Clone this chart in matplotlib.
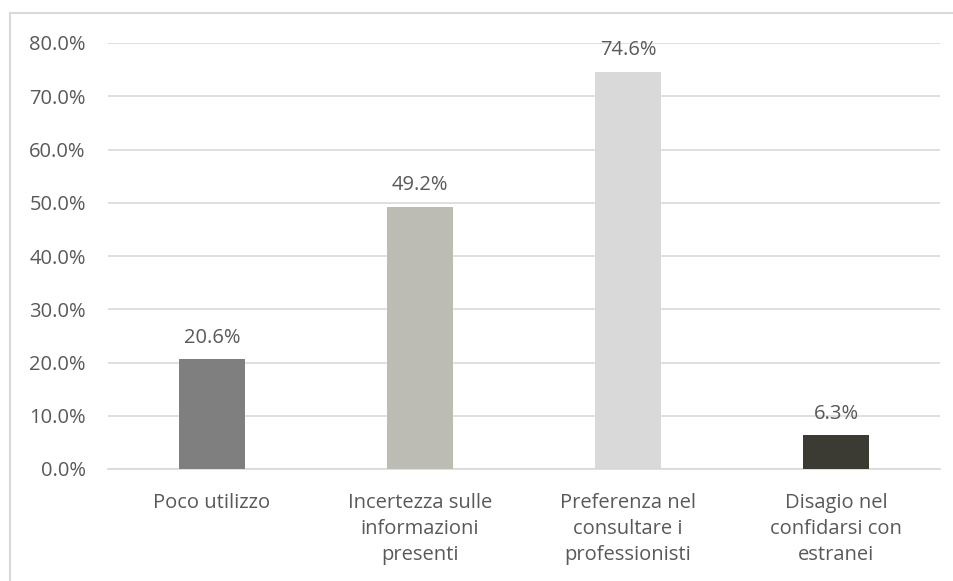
import matplotlib.pyplot as plt
from matplotlib.lines import Line2D
from matplotlib.ticker import MultipleLocator, FuncFormatter

categorie = ["Poco utilizzo", "Incertezza sulle\ninformazioni\npresenti",
             "Preferenza nel\nconsultare i\nprofessionisti", "Disagio nel\nconfidarsi con\nestranei"]
valori = [20.6, 49.2, 74.6, 6.3]
colori = ["#7f7f7f", "#bcbcb4", "#d9d9d9", "#3b3a33"]

plt.rcParams['font.family'] = ['Open Sans', 'DejaVu Sans']
testo = "#595959"
fs = 14.5

fig = plt.figure(figsize=(9.54, 5.81), dpi=100)
ax = fig.add_axes([108/954, 1 - 469/581, 832/954, 426/581])

x = range(len(valori))
ax.bar(x, valori, width=0.32, color=colori, zorder=3)
for i, v in enumerate(valori):
    ax.text(i, v + 2.2, f"{v:.1f}%", ha="center", va="bottom", fontsize=fs, color=testo)

ax.set_xlim(-0.5, 3.5)
ax.set_ylim(0, 80)
ax.yaxis.set_major_locator(MultipleLocator(10))
ax.yaxis.set_major_formatter(FuncFormatter(lambda v, p: f"{v:.1f}%"))
ax.grid(axis="y", color="#d9d9d9", linewidth=1.2, zorder=0)
ax.set_xticks(list(x))
ax.set_xticklabels(categorie, fontsize=fs, color=testo, linespacing=1.42)
ax.tick_params(axis="y", labelsize=fs, labelcolor=testo, length=0, pad=16)
ax.tick_params(axis="x", length=0, pad=17)
for s in ["top", "right", "left"]:
    ax.spines[s].set_visible(False)
ax.spines["bottom"].set_color("#d9d9d9")
ax.spines["bottom"].set_linewidth(1.2)

# bordo del grafico
fig.add_artist(Line2D([10/954, 10/954], [0, 1 - 13/581], color="#d9d9d9", lw=1.5))
fig.add_artist(Line2D([10/954, 1], [1 - 13/581, 1 - 13/581], color="#d9d9d9", lw=1.5))

fig.savefig("out.png", dpi=100)
